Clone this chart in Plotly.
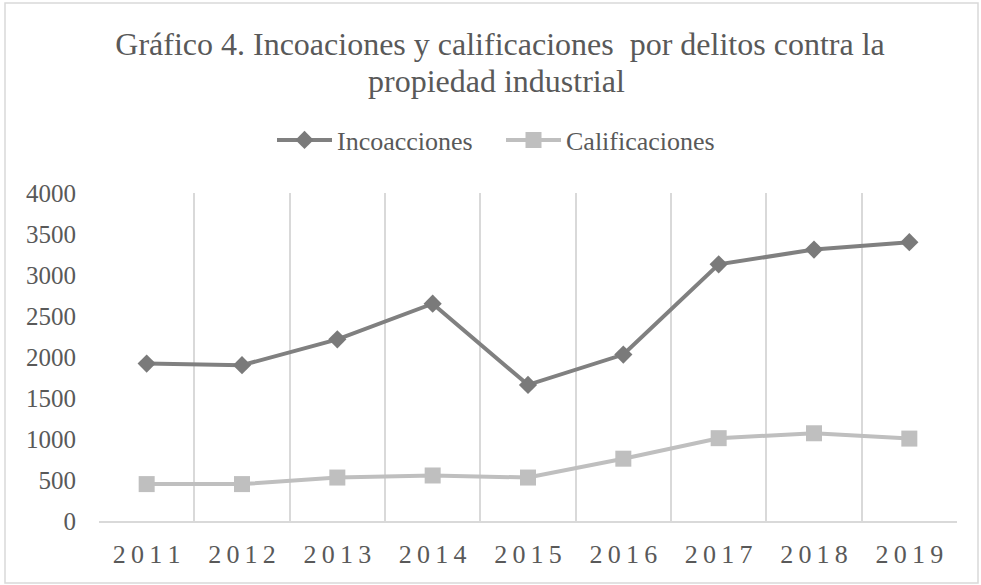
import plotly.graph_objects as go

years = ["2011", "2012", "2013", "2014", "2015", "2016", "2017", "2018", "2019"]
year_labels = ["2\u20090\u20091\u20091", "2\u20090\u20091\u20092", "2\u20090\u20091\u20093",
               "2\u20090\u20091\u20094", "2\u20090\u20091\u20095", "2\u20090\u20091\u20096",
               "2\u20090\u20091\u20097", "2\u20090\u20091\u20098", "2\u20090\u20091\u20099"]
incoacciones = [1920, 1900, 2215, 2650, 1660, 2030, 3130, 3310, 3400]
calificaciones = [450, 450, 530, 555, 530, 760, 1010, 1070, 1005]
y_ticks = [0, 500, 1000, 1500, 2000, 2500, 3000, 3500, 4000]
title_lines = ["Gráfico 4. Incoaciones y calificaciones  por delitos contra la",
               "propiedad industrial"]

W, H = 981, 585
ML, MR, MT, MB = 99, 24, 193, 64
PW, PH = W - ML - MR, H - MT - MB

TEXT = "#595959"
FONT = "Liberation Serif, Times New Roman, serif"

fig = go.Figure()
fig.add_trace(go.Scatter(
    x=years, y=incoacciones, name="Incoacciones", mode="lines+markers",
    line=dict(color="#808080", width=4),
    marker=dict(symbol="diamond", size=14, color="#7a7a7a"),
))
fig.add_trace(go.Scatter(
    x=years, y=calificaciones, name="Calificaciones", mode="lines+markers",
    line=dict(color="#bfbfbf", width=4),
    marker=dict(symbol="square", size=16, color="#bfbfbf"),
))

# outer chart frame
def px_to_paper_x(px):
    return (px - ML) / PW

def px_to_paper_y(py):
    return (H - MB - py) / PH

fig.add_shape(type="rect", xref="paper", yref="paper",
              x0=px_to_paper_x(5), x1=px_to_paper_x(978),
              y0=px_to_paper_y(583), y1=px_to_paper_y(3),
              line=dict(color="#d9d9d9", width=1.5), fillcolor="rgba(0,0,0,0)",
              layer="below")

# second title line, set a little tighter than the default line spacing
fig.add_annotation(
    text=title_lines[1], xref="paper", yref="paper",
    x=px_to_paper_x(496), y=px_to_paper_y(81),
    xanchor="center", yanchor="middle", showarrow=False,
    font=dict(family=FONT, size=32, color=TEXT),
)

fig.update_layout(
    width=W, height=H,
    margin=dict(l=ML, r=MR, t=MT, b=MB, autoexpand=False),
    paper_bgcolor="white", plot_bgcolor="white",
    font=dict(family=FONT, color=TEXT, size=26),
    title=dict(
        text=title_lines[0],
        x=500 / W, xref="container", xanchor="center",
        y=1 - 44 / H, yref="container", yanchor="middle",
        font=dict(family=FONT, size=32, color=TEXT),
    ),
    legend=dict(
        orientation="h", x=px_to_paper_x(272), xref="paper", xanchor="left",
        y=1 + 53 / PH, yanchor="middle",
        font=dict(family=FONT, size=26, color=TEXT),
        traceorder="normal", itemwidth=55, entrywidth=159,
    ),
    showlegend=True,
)

fig.update_xaxes(
    type="category", tickson="boundaries",
    tickvals=years, ticktext=year_labels, tickangle=0, automargin=False,
    showgrid=True, gridcolor="#d9d9d9", gridwidth=1.5,
    showline=True, linecolor="#d9d9d9", linewidth=1.5,
    ticks="", ticklabelstandoff=9,
    tickfont=dict(family=FONT, size=26, color=TEXT),
    range=[-0.5, 8.5], fixedrange=True,
)
fig.update_yaxes(
    range=[0, 4000], tickvals=y_ticks, automargin=False,
    showgrid=False, zeroline=False, showline=False,
    ticks="", ticklabelstandoff=22,
    tickfont=dict(family=FONT, size=25, color=TEXT),
    fixedrange=True,
)

fig.write_html("out.html")
